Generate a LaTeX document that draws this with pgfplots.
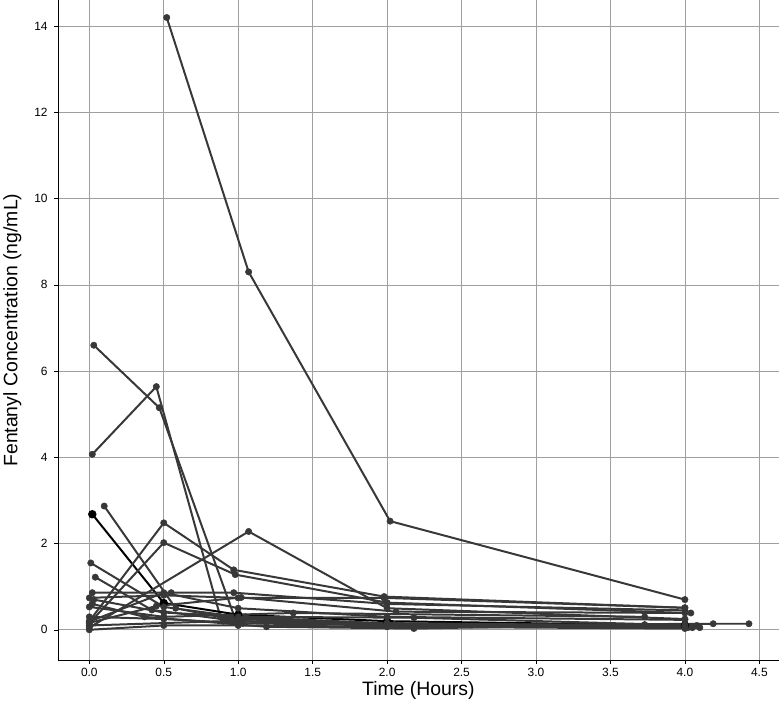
\documentclass[border=0pt]{standalone}
\usepackage{pgfplots}
\pgfplotsset{compat=1.18}
\usepackage{fontspec}
\setmainfont{Liberation Sans}
\definecolor{ln}{HTML}{383838}
\tikzset{s/.style={color=ln, solid, line width=2pt, mark=*, mark size=3.2pt, mark options={solid, fill=ln, line width=0.5pt}}}
\begin{document}
\begin{tikzpicture}[x=1bp,y=1bp]
\begin{axis}[
  scale only axis,
  width=721bp, height=660bp,
  xmin=-0.21, xmax=4.63, ymin=-0.7, ymax=14.6,
  axis lines=left,
  axis line style={-, black, line width=0.6pt},
  tick align=outside,
  major tick length=4bp,
  tick style={black, line width=0.5pt},
  xtick={0,0.5,...,4.5},
  ytick={0,2,...,14},
  xticklabel style={yshift=-1bp, /pgf/number format/fixed, /pgf/number format/fixed zerofill, /pgf/number format/precision=1},
  /pgf/number format/assume math mode=true,
  ticklabel style={font=\fontsize{12}{14}\selectfont},
  yticklabel style={xshift=-3bp},
  grid=major,
  major grid style={gray!75, line width=0.6pt},
  xlabel={Time (Hours)},
  ylabel={Fentanyl Concentration (ng/mL)},
  label style={font=\fontsize{19.5}{22}\selectfont},
  xlabel style={yshift=2bp},
  ylabel style={yshift=6bp},
  clip=false,
]
\addplot[s] coordinates {(0.52,14.2) (1.07,8.3) (2.02,2.52) (4.0,0.7)};
\addplot[s] coordinates {(0.03,6.6) (0.47,5.15) (0.98,0.25) (2.05,0.12) (4.02,0.05)};
\addplot[s] coordinates {(0.02,4.07) (0.45,5.64) (0.88,0.3) (2.0,0.12) (4.0,0.06)};
\addplot[s, color=black, mark options={fill=black}] coordinates {(0.02,2.68) (0.5,0.62) (1.0,0.35) (2.0,0.2) (4.0,0.1)};
\addplot[s] coordinates {(0.1,2.87) (0.58,0.5) (1.02,0.2) (2.03,0.1) (4.05,0.05)};
\addplot[s] coordinates {(0.0,0.2) (0.5,2.48) (0.97,1.39) (1.98,0.77) (4.0,0.51)};
\addplot[s] coordinates {(0.0,0.15) (0.5,2.02) (0.98,1.28) (2.0,0.63) (4.0,0.39)};
\addplot[s] coordinates {(0.0,0.05) (1.07,2.28) (2.0,0.5) (4.0,0.25)};
\addplot[s] coordinates {(0.01,1.55) (0.5,0.53) (1.0,0.3) (2.0,0.15) (4.0,0.08)};
\addplot[s] coordinates {(0.04,1.22) (0.42,0.46) (1.0,0.2) (2.1,0.1) (4.1,0.05)};
\addplot[s] coordinates {(0.02,0.86) (0.55,0.86) (0.97,0.86) (2.0,0.6) (4.0,0.45)};
\addplot[s] coordinates {(0.0,0.74) (0.5,0.8) (1.0,0.74) (1.98,0.74) (4.0,0.51)};
\addplot[s] coordinates {(0.0,0.53) (0.5,0.3) (1.37,0.39) (3.73,0.3)};
\addplot[s] coordinates {(0.0,0.19) (0.5,0.86) (1.0,0.5) (2.0,0.3) (4.0,0.23)};
\addplot[s] coordinates {(0.0,0.16) (0.45,0.55) (1.02,0.75) (2.06,0.42) (4.04,0.39)};
\addplot[s] coordinates {(0.0,0.0) (0.5,0.1) (1.0,0.1) (2.0,0.07) (4.0,0.03)};
\addplot[s] coordinates {(0.02,0.6) (0.37,0.3) (1.19,0.07) (2.18,0.03) (3.73,0.12)};
\addplot[s] coordinates {(0.0,0.3) (0.5,0.25) (1.03,0.15) (2.05,0.1) (4.19,0.14) (4.43,0.14)};
\addplot[s] coordinates {(0.03,0.7) (0.5,0.4) (1.05,0.3) (2.18,0.28) (4.08,0.1)};
\addplot[s] coordinates {(0.0,0.1) (0.9,0.2) (2.0,0.15) (4.0,0.1)};
\end{axis}
\end{tikzpicture}
\end{document}
